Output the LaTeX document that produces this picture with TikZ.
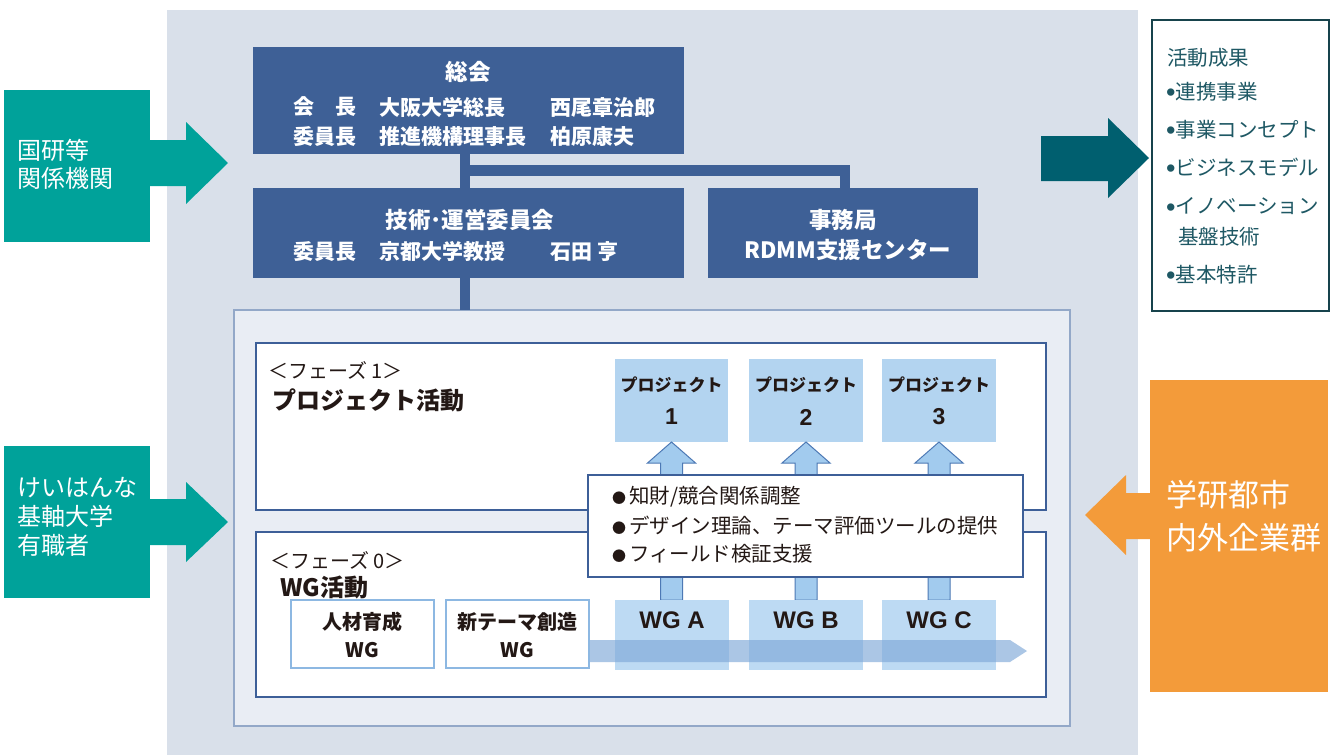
\documentclass[tikz,border=0pt]{standalone}
\usepackage{fontspec}
\setmainfont{Noto Sans CJK JP}
\newfontfamily\lat{Liberation Sans}
\usetikzlibrary{calc}
\definecolor{bggray}{HTML}{D9E0EA}
\definecolor{navy}{HTML}{3E6096}
\definecolor{panelfill}{HTML}{E9EDF4}
\definecolor{panelline}{HTML}{93A8C8}
\definecolor{phaseline}{HTML}{3D5F98}
\definecolor{projblue}{HTML}{B3D4F0}
\definecolor{wgblue}{HTML}{BDDAF3}
\definecolor{arrfill}{HTML}{A2CBEE}
\definecolor{arrline}{HTML}{4D79B5}
\definecolor{bandblue}{HTML}{7FA8D8}
\definecolor{myteal}{HTML}{00A29A}
\definecolor{darkteal}{HTML}{005F6F}
\definecolor{outline}{HTML}{17434C}
\definecolor{outtext}{HTML}{1E5864}
\definecolor{myorange}{HTML}{F39B3A}
\definecolor{ink}{HTML}{231815}
\definecolor{smallline}{HTML}{8DB8E2}
\tikzset{
  rect/.style 2 args={minimum width=#1pt, minimum height=#2pt, inner sep=0pt, outer sep=0pt},
  navybox/.style={fill=navy},
  conn/.style={draw=navy, line width=10.5pt},
  wtxt/.style={text=white, inner sep=0pt, font=\bfseries\fontsize{21}{21}\selectfont},
  wtitle/.style={text=white, inner sep=0pt, font=\bfseries\fontsize{22.5}{22.5}\selectfont},
  projtxt/.style={text=ink, inner sep=0pt, font=\bfseries\fontsize{17}{17}\selectfont},
  projnum/.style={text=ink, inner sep=0pt, font=\lat\bfseries\fontsize{23}{23}\selectfont},
  wgtxt/.style={text=ink, inner sep=0pt, font=\lat\bfseries\fontsize{24}{24}\selectfont},
  midtxt/.style={text=ink, inner sep=0pt, anchor=west, font=\fontsize{20.5}{20.5}\selectfont},
  phlabel/.style={text=ink, inner sep=0pt, anchor=west, font=\fontsize{20}{20}\selectfont},
  phtitle/.style={text=ink, inner sep=0pt, anchor=west, font=\bfseries\fontsize{24}{24}\selectfont},
  smalltxt/.style={text=ink, inner sep=0pt, font=\bfseries\fontsize{20}{20}\selectfont},
  lefttxt/.style={text=white, inner sep=0pt, anchor=west, font=\fontsize{24}{24}\selectfont},
  outtxt/.style={text=outtext, inner sep=0pt, anchor=west, font=\fontsize{20.5}{20.5}\selectfont},
  orangetxt/.style={text=white, inner sep=0pt, anchor=west, font=\fontsize{31}{31}\selectfont},
  uparr/.style={fill=arrfill, draw=arrline, line width=1pt, line join=miter},
}
\newcommand{\obul}{\raisebox{-2.5pt}{\lat\fontsize{27}{27}\selectfont •}}
\newcommand{\mbul}{{\fontsize{14}{14}\selectfont ●}\hspace{3pt}}
\begin{document}
\begin{tikzpicture}[x=1pt,y=-1pt]
\useasboundingbox (0,0) rectangle (1339,755);
\fill[white] (0,0) rectangle (1339,755);
% background panel
\node[rect={971}{745}, fill=bggray] (bg) at (652.5,382.5) {};
% top boxes
\node[rect={431}{107}, navybox] (sokai) at (468.5,100.5) {};
\node[rect={431}{90}, navybox] (gijutsu) at (468.5,233) {};
\node[rect={270}{90}, navybox] (jimu) at (843,233) {};
% inner panel
\node[rect={836}{416}, fill=panelfill, draw=panelline, line width=2pt] (panel) at (652,518) {};
% connectors
\coordinate (jx) at (465,170.5);
\coordinate (jb) at (845,170.5);
\draw[conn] (jx |- sokai.south) -- (jx |- gijutsu.north);
\draw[conn] (jx) -| (jb |- jimu.north);
\draw[conn] (jx |- gijutsu.south) -- (jx |- panel.north);
% phase boxes
\node[rect={790}{167}, fill=white, draw=phaseline, line width=2pt] (ph1) at (651,426.5) {};
\node[rect={790}{165}, fill=white, draw=phaseline, line width=2pt] (ph0) at (651,614.5) {};
% project boxes
\node[rect={113}{83}, fill=projblue] (p1) at (671.5,400.5) {};
\node[rect={114}{83}, fill=projblue] (p2) at (806,400.5) {};
\node[rect={114}{83}, fill=projblue] (p3) at (939,400.5) {};
% up arrows
\draw[uparr] (p1.south) -- ++(24,21) -- ++(-13,0) -- ++(0,137) -- ++(-22,0) -- ++(0,-137) -- ++(-13,0) -- cycle;
\draw[uparr] (p2.south) -- ++(24,21) -- ++(-13,0) -- ++(0,137) -- ++(-22,0) -- ++(0,-137) -- ++(-13,0) -- cycle;
\draw[uparr] (p3.south) -- ++(24,21) -- ++(-13,0) -- ++(0,137) -- ++(-22,0) -- ++(0,-137) -- ++(-13,0) -- cycle;
% WG boxes
\node[rect={114}{70}, fill=wgblue] (w1) at (672,635) {};
\node[rect={114}{70}, fill=wgblue] (w2) at (806,635) {};
\node[rect={114}{70}, fill=wgblue] (w3) at (939,635) {};
% band arrow
\coordinate (bandtip) at (1027,651);
\fill[bandblue, opacity=0.65] (bandtip) -- ++(-17,-11) -- ++(-450,0) -- ++(0,22) -- ++(450,0) -- cycle;
% small WG boxes
\node[rect={143}{68}, fill=white, draw=smallline, line width=2.5pt] (jz) at (362.5,634) {};
\node[rect={143}{68}, fill=white, draw=smallline, line width=2.5pt] (sz) at (517.5,634) {};
% middle box
\node[rect={435}{102}, fill=white, draw=phaseline, line width=2pt] (mid) at (805.5,526) {};
% left boxes and arrows
\node[rect={146}{152}, fill=myteal] (left1) at (77,166) {};
\node[rect={146}{152}, fill=myteal] (left2) at (77,522) {};
\coordinate (a1tip) at (228,163);
\coordinate (a2tip) at (228,522);
\fill[myteal] (left1.east |- a1tip) ++(-1,-23) -- ++(37,0) -- ++(0,-18) -- (a1tip) -- ++(-42,41) -- ++(0,-18) -- ++(-37,0) -- cycle;
\fill[myteal] (left2.east |- a2tip) ++(-1,-23) -- ++(37,0) -- ++(0,-17) -- (a2tip) -- ++(-42,40) -- ++(0,-17) -- ++(-37,0) -- cycle;
% right outcome box and arrow
\node[rect={177}{291}, fill=white, draw=outline, line width=2.5pt] (outbox) at (1240.5,165.5) {};
\coordinate (a3tip) at (1149,158);
\fill[darkteal] (a3tip) -- ++(-41,-40) -- ++(0,18) -- ++(-67,0) -- ++(0,45) -- ++(67,0) -- ++(0,17) -- cycle;
% orange box and arrow
\node[rect={178}{312}, fill=myorange] (orbox) at (1239,536) {};
\coordinate (a4tip) at (1085,515);
\fill[myorange] (a4tip) -- ++(41,-40) -- ++(0,18) -- ++(25,0) -- ++(0,46) -- ++(-25,0) -- ++(0,16) -- cycle;
% ---- texts ----
\node[wtitle] (t-sokai) at (468,72) {総会};
\node[wtxt, anchor=west] (t-s1a) at (293,107) {会　長};
\node[wtxt, anchor=west] (t-s1b) at (379,107) {大阪大学総長};
\node[wtxt, anchor=west] (t-s1c) at (550,107) {西尾章治郎};
\node[wtxt, anchor=west] (t-s2a) at (293,137) {委員長};
\node[wtxt, anchor=west] (t-s2b) at (379,137) {推進機構理事長};
\node[wtxt, anchor=west] (t-s2c) at (550,137) {柏原康夫};
\node[wtitle] (t-gij) at (470,220) {技術･運営委員会};
\node[wtxt, anchor=west] (t-g1a) at (293,252) {委員長};
\node[wtxt, anchor=west] (t-g1b) at (379,252) {京都大学教授};
\node[wtxt, anchor=west] (t-g1c) at (550,252) {石田 亨};
\node[wtitle] (t-jimu) at (843,220) {事務局};
\node[wtitle] (t-rdmm) at (848,250) {RDMM支援センター};
% phase labels
\node[phlabel] (t-ph1a) at (268,370) {＜フェーズ 1＞};
\node[phtitle] (t-ph1b) at (272,400) {プロジェクト活動};
\node[phlabel] (t-ph0a) at (270,560) {＜フェーズ 0＞};
\node[phtitle] (t-ph0b) at (280,587) {WG活動};
% projects
\node[projtxt] (t-p1) at (p1 |- 0,385) {プロジェクト};
\node[projnum] (t-p1n) at (p1 |- 0,417) {1};
\node[projtxt] (t-p2) at (p2 |- 0,385) {プロジェクト};
\node[projnum] (t-p2n) at (p2 |- 0,417) {2};
\node[projtxt] (t-p3) at (p3 |- 0,385) {プロジェクト};
\node[projnum] (t-p3n) at (p3 |- 0,417) {3};
% middle box
\node[midtxt] (t-m1) at (612,497) {\mbul 知財/競合関係調整};
\node[midtxt] (t-m2) at (612,526) {\mbul デザイン理論、テーマ評価ツールの提供};
\node[midtxt] (t-m3) at (612,554) {\mbul フィールド検証支援};
% WG boxes
\node[wgtxt] (t-w1) at (w1 |- 0,620) {WG A};
\node[wgtxt] (t-w2) at (w2 |- 0,620) {WG B};
\node[wgtxt] (t-w3) at (w3 |- 0,620) {WG C};
\node[smalltxt] (t-jz1) at (jz |- 0,622) {人材育成};
\node[smalltxt] (t-jz2) at (jz |- 0,650) {WG};
\node[smalltxt] (t-sz1) at (sz |- 0,622) {新テーマ創造};
\node[smalltxt] (t-sz2) at (sz |- 0,650) {WG};
% left texts
\node[lefttxt] (t-l1a) at (17,150) {国研等};
\node[lefttxt] (t-l1b) at (17,178) {関係機関};
\node[lefttxt] (t-l2a) at (17,488) {けいはんな};
\node[lefttxt] (t-l2b) at (17,516) {基軸大学};
\node[lefttxt] (t-l2c) at (17,545) {有職者};
% outcome texts
\node[outtxt] (t-o0) at (1167,58) {活動成果};
\node[outtxt] (t-o1) at (1166,92) {\obul 連携事業};
\node[outtxt] (t-o2) at (1166,130) {\obul 事業コンセプト};
\node[outtxt] (t-o3) at (1166,168) {\obul ビジネスモデル};
\node[outtxt] (t-o4) at (1166,207) {\obul イノベーション};
\node[outtxt] (t-o4b) at (1178,237) {基盤技術};
\node[outtxt] (t-o5) at (1166,275) {\obul 基本特許};
% orange texts
\node[orangetxt] (t-or1) at (1166,495) {学研都市};
\node[orangetxt] (t-or2) at (1166,538) {内外企業群};
\end{tikzpicture}
\end{document}
